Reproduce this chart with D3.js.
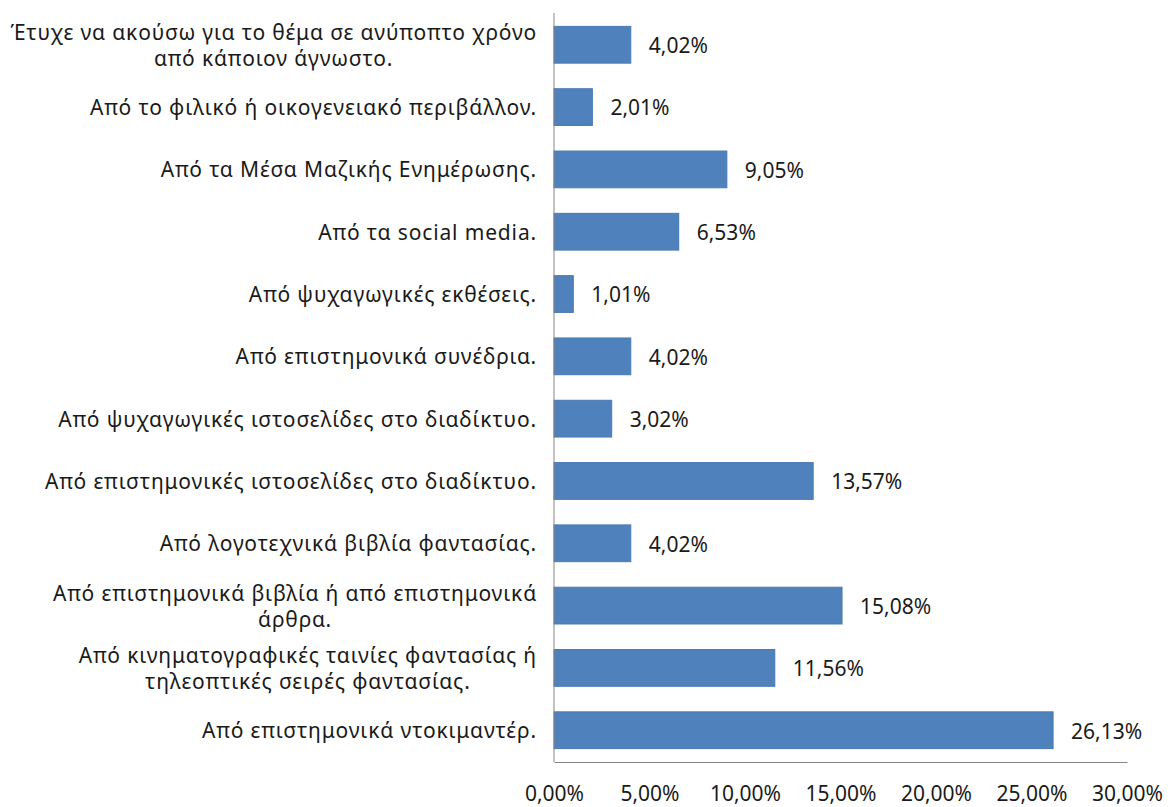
<!DOCTYPE html>
<html>
<head>
<meta charset="utf-8">
<script src="https://cdn.jsdelivr.net/npm/d3@7"></script>
<style>
  html, body { margin: 0; padding: 0; background: #fff; }
  svg { display: block; }
  text { font-family: "Noto Sans", "Open Sans", sans-serif; fill: #1a1a1a; }
</style>
</head>
<body>
<svg id="chart" width="1170" height="807"></svg>
<script>
// Category labels, top to bottom; "\n" marks a line break inside a label
const categories = [
  "Έτυχε να ακούσω για το θέμα σε ανύποπτο χρόνο\nαπό κάποιον άγνωστο.",
  "Από το φιλικό ή οικογενειακό περιβάλλον.",
  "Από τα Μέσα Μαζικής Ενημέρωσης.",
  "Από τα social media.",
  "Από ψυχαγωγικές εκθέσεις.",
  "Από επιστημονικά συνέδρια.",
  "Από ψυχαγωγικές ιστοσελίδες στο διαδίκτυο.",
  "Από επιστημονικές ιστοσελίδες στο διαδίκτυο.",
  "Από λογοτεχνικά βιβλία φαντασίας.",
  "Από επιστημονικά βιβλία ή από επιστημονικά\nάρθρα.",
  "Από κινηματογραφικές ταινίες φαντασίας ή\nτηλεοπτικές σειρές φαντασίας.",
  "Από επιστημονικά ντοκιμαντέρ."
];
// Share of answers (%)
const values = [4.02, 2.01, 9.05, 6.53, 1.01, 4.02, 3.02, 13.57, 4.02, 15.08, 11.56, 26.13];
// Axis ticks (%)
const tickValues = [0, 5, 10, 15, 20, 25, 30];

const fmt = v => v.toFixed(2).replace(".", ",") + "%";

const svg = d3.select("#chart");
const plot = { left: 554, right: 1127, top: 13, bottom: 762 };
const fontSize = 21;

const x = d3.scaleLinear().domain([0, 30]).range([plot.left, plot.right]);
const y = d3.scaleBand().domain(categories).range([plot.top, plot.bottom]).paddingInner(0.41).paddingOuter(0.215);

// Bars
svg.append("g").selectAll("rect")
  .data(values)
  .join("rect")
  .attr("x", x(0))
  .attr("y", (d, i) => y(categories[i]))
  .attr("width", d => x(d) - x(0))
  .attr("height", y.bandwidth())
  .attr("fill", "#4f81bd")
  .attr("stroke", "#4a7ab3")
  .attr("stroke-width", 1);

// Value labels
svg.append("g").selectAll("text")
  .data(values)
  .join("text")
  .attr("x", d => x(d) + 18)
  .attr("y", (d, i) => y(categories[i]) + y.bandwidth() / 2)
  .attr("dy", "0.4em")
  .style("font-size", fontSize + "px")
  .text(d => fmt(d));

// Category labels: block right-aligned near the axis, lines centred within the block
const labelRight = plot.left - 17;
const lineH = 26;
const catG = svg.append("g");
categories.forEach((c, i) => {
  const lines = c.split("\n");
  const cy = y(c) + y.bandwidth() / 2;
  const t = catG.append("text")
    .style("font-size", fontSize + "px")
    .style("letter-spacing", "0.85px");
  lines.forEach(ln => t.append("tspan").text(ln));
  const spans = t.selectAll("tspan").nodes();
  const maxW = d3.max(spans, s => s.getComputedTextLength());
  t.attr("text-anchor", "middle");
  spans.forEach((s, j) => {
    d3.select(s)
      .attr("x", labelRight - maxW / 2)
      .attr("y", cy + (j - (lines.length - 1) / 2) * lineH)
      .attr("dy", "0.38em");
  });
});

// Horizontal value axis
const xAxis = d3.axisBottom(x).tickValues(tickValues).tickSize(0).tickPadding(24).tickFormat(fmt);
const gx = svg.append("g").attr("transform", `translate(0,${plot.bottom})`).call(xAxis);
gx.select(".domain").attr("stroke", "#868686");
gx.selectAll("text")
  .style("font-size", fontSize + "px")
  .style("font-family", '"Noto Sans", sans-serif')
  .attr("fill", "#1a1a1a");

// Vertical category axis line
svg.append("line")
  .attr("x1", plot.left).attr("x2", plot.left)
  .attr("y1", plot.top).attr("y2", plot.bottom)
  .attr("stroke", "#868686");
</script>
</body>
</html>
